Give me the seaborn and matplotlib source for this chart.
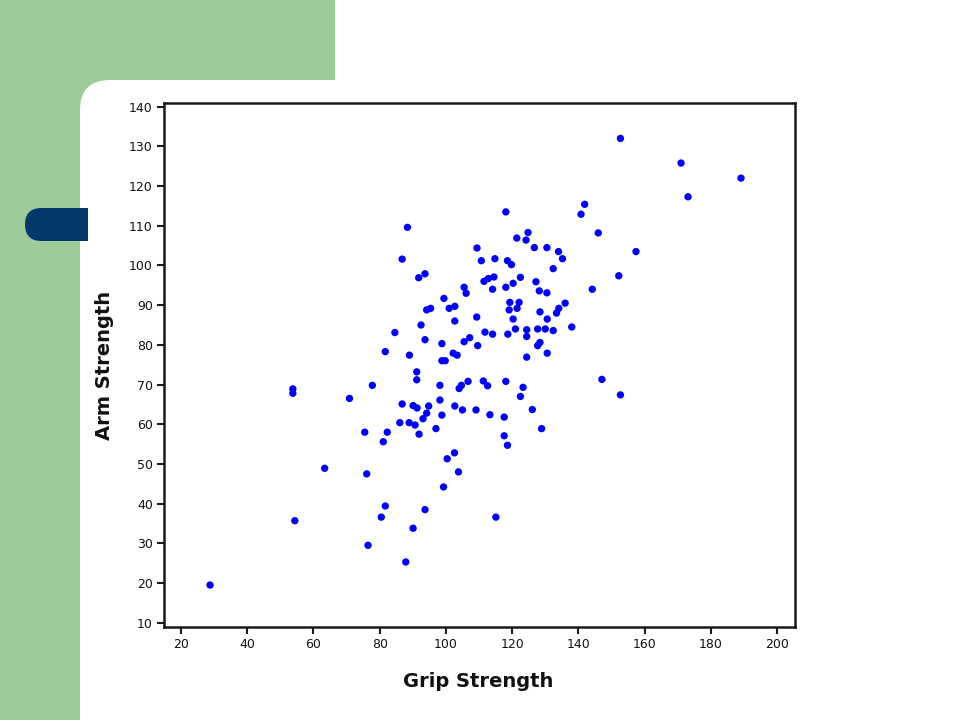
import matplotlib
matplotlib.use("Agg")
import matplotlib.pyplot as plt
from matplotlib.patches import Rectangle, FancyBboxPatch
import seaborn as sns
import pandas as pd

# ---- data ----
grip_strength = [
    28.8, 54.4, 53.8, 53.8, 63.4, 70.9, 77.8, 76.1, 75.5, 76.5,
    81.7, 84.6, 80.5, 81.7, 81.1, 82.3, 86.8, 86.1, 88.9, 90.7,
    87.9, 90.1, 88.4, 86.8, 89.0, 90.1, 91.3, 91.2, 91.2, 91.8,
    93.7, 92.5, 93.7, 94.2, 95.4, 94.8, 94.2, 93.1, 91.9, 93.7,
    97.0, 98.2, 98.2, 98.8, 98.8, 99.8, 98.8, 99.3, 99.4, 100.4,
    101.0, 102.7, 102.7, 102.2, 103.4, 102.7, 102.6, 103.8, 104.0, 104.7,
    105.0, 105.5, 106.1, 105.5, 107.2, 106.7, 109.4, 109.3, 109.6, 109.1,
    110.7, 111.5, 112.8, 114.5, 111.3, 112.6, 111.8, 114.1, 114.1, 114.8,
    113.3, 115.1, 117.6, 117.6, 118.6, 118.1, 118.1, 118.7, 118.1, 118.6,
    119.8, 120.3, 119.3, 119.1, 122.1, 121.5, 120.3, 121.0, 121.4, 124.2,
    124.8, 122.5, 122.5, 123.3, 124.4, 124.4, 124.4, 126.1, 126.7, 127.2,
    127.7, 127.7, 128.4, 128.2, 128.4, 128.9, 130.0, 130.5, 130.5, 130.6,
    130.6, 132.4, 132.4, 133.4, 134.1, 134.0, 135.2, 136.0, 138.0, 141.9,
    140.8, 144.2, 146.0, 147.1, 152.2, 152.7, 152.7, 157.4, 171.0, 173.1,
    189.1,
]
arm_strength = [
    19.5, 35.7, 68.9, 67.8, 48.9, 66.5, 69.8, 47.5, 58.0, 29.5,
    78.3, 83.1, 36.6, 39.4, 55.6, 58.0, 65.1, 60.4, 60.4, 59.8,
    25.3, 33.8, 109.6, 101.6, 77.4, 64.7, 64.1, 73.2, 71.2, 96.9,
    97.9, 85.0, 81.3, 88.8, 89.2, 64.6, 62.8, 61.4, 57.5, 38.5,
    58.9, 69.8, 66.1, 80.3, 76.0, 76.0, 62.3, 44.2, 91.7, 51.3,
    89.2, 89.7, 86.0, 77.9, 77.4, 64.6, 52.8, 48.0, 69.0, 69.8,
    63.6, 94.5, 93.0, 80.8, 81.8, 70.8, 104.4, 87.0, 79.8, 63.6,
    101.2, 96.0, 96.7, 97.1, 70.9, 69.7, 83.2, 82.7, 94.0, 101.7,
    62.4, 36.6, 61.8, 57.1, 54.7, 113.5, 94.5, 82.7, 70.8, 101.2,
    100.2, 95.5, 90.7, 88.8, 90.7, 89.2, 86.5, 84.0, 106.9, 106.4,
    108.3, 97.0, 67.0, 69.3, 83.8, 82.1, 76.9, 63.7, 104.5, 95.9,
    84.0, 79.8, 80.6, 93.6, 88.3, 58.9, 84.0, 104.5, 93.1, 86.5,
    77.9, 99.2, 83.6, 88.0, 89.2, 103.5, 101.7, 90.5, 84.5, 115.4,
    112.9, 94.0, 108.2, 71.3, 97.4, 67.4, 132.0, 103.5, 125.8, 117.3,
    122.0,
]
x_ticks = [20, 40, 60, 80, 100, 120, 140, 160, 180, 200]
y_ticks = [10, 20, 30, 40, 50, 60, 70, 80, 90, 100, 110, 120, 130, 140]
x_label = "Grip Strength"
y_label = "Arm Strength"

df = pd.DataFrame({"grip": grip_strength, "arm": arm_strength})

sns.set_theme(style="ticks")
plt.rcParams["font.family"] = ["DejaVu Sans"]

W, H = 960, 720
fig = plt.figure(figsize=(W / 100, H / 100), dpi=100)
fig.patch.set_facecolor("white")

# ---- slide decoration (background) ----
bg = fig.add_axes([0, 0, 1, 1], zorder=-10)
bg.set_xlim(0, W)
bg.set_ylim(H, 0)
bg.axis("off")
green = "#9dcc9a"
navy = "#03386b"
bg.add_patch(Rectangle((0, 0), 335, 80, facecolor=green, edgecolor="none"))
bg.add_patch(Rectangle((0, 0), 80, H, facecolor=green, edgecolor="none"))
bg.add_patch(Rectangle((0, 0), 130, 130, facecolor=green, edgecolor="none"))
bg.add_patch(FancyBboxPatch((80, 80), 1200, 1000,
                            boxstyle="round,pad=0,rounding_size=30",
                            facecolor="white", edgecolor="none"))
bg.add_patch(FancyBboxPatch((25, 208), 40, 33,
                            boxstyle="round,pad=0,rounding_size=16.5",
                            facecolor=navy, edgecolor="none"))
bg.add_patch(Rectangle((45, 208), 43, 33, facecolor=navy, edgecolor="none"))

# ---- main plot ----
left, right, top, bottom = 164, 795, 102.7, 626.7
ax = fig.add_axes([left / W, 1 - bottom / H, (right - left) / W, (bottom - top) / H])
ax.set_facecolor("white")

sns.scatterplot(data=df, x="grip", y="arm", ax=ax, color="#0000ff",
                s=28, edgecolor="none", linewidth=0, marker="o", legend=False)

ax.set_xlim(14.9, 205.4)
ax.set_ylim(9.0, 141.0)
ax.set_xticks(x_ticks)
ax.set_yticks(y_ticks)
ax.set_xticklabels([str(t) for t in x_ticks])
ax.set_yticklabels([str(t) for t in y_ticks])

for sp in ax.spines.values():
    sp.set_visible(True)
    sp.set_color("#1a1a1a")
    sp.set_linewidth(1.8)

ax.tick_params(axis="both", direction="out", length=5, width=1.5,
               colors="#1a1a1a", labelsize=9, labelcolor="#111111", pad=3)

ax.set_xlabel(x_label, fontsize=14, fontweight="bold", color="#111111")
ax.set_ylabel(y_label, fontsize=14, fontweight="bold", color="#111111")
ax.xaxis.set_label_coords((478 - left) / (right - left), -(672 - bottom) / (bottom - top))
ax.yaxis.set_label_coords(-(left - 114) / (right - left), (bottom - 365) / (bottom - top))

fig.savefig("out.png", dpi=100, facecolor=fig.get_facecolor())
